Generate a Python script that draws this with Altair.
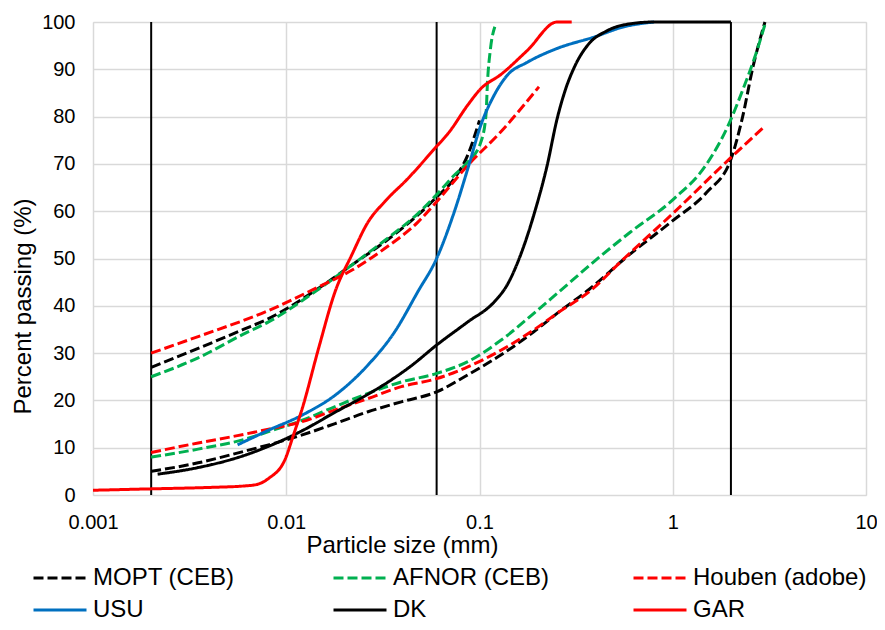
import altair as alt
import pandas as pd

series_names = ["MOPT (CEB)", "AFNOR (CEB)", "Houben (adobe)", "USU", "DK", "GAR"]
series_colors = ["#000000", "#00B050", "#FF0000", "#0070C0", "#000000", "#FF0000"]
series_dash = [[10, 4], [10, 4], [10, 4], [1, 0], [1, 0], [1, 0]]

# MOPT (CEB) envelope
mopt_upper_x = [0.002, 0.0035, 0.006, 0.0081, 0.0147, 0.0218, 0.0323, 0.048, 0.06, 0.0741, 0.0868, 0.1]
mopt_upper_y = [27, 31, 35, 37.3, 43.7, 48.6, 53.5, 59.2, 63, 66.9, 71.8, 79.2]
mopt_lower_x = [0.002, 0.0035, 0.006, 0.0081, 0.0121, 0.0179, 0.0265, 0.0394, 0.06, 0.087, 0.129, 0.191, 0.252, 0.37, 0.58, 1, 1.5, 2, 2.3, 2.6, 3]
mopt_lower_y = [5, 6.8, 9.2, 10.6, 12.7, 15.1, 17.6, 19.7, 21.8, 25.4, 29.6, 34.5, 38.4, 43.5, 50.4, 58, 64, 71, 80, 90.5, 100]

# AFNOR (CEB) envelope
afnor_upper_x = [0.002, 0.0035, 0.006, 0.0081, 0.0147, 0.0218, 0.0323, 0.048, 0.06, 0.074, 0.087, 0.1016, 0.108, 0.11, 0.114, 0.12]
afnor_upper_y = [25, 29, 34, 36.6, 43.5, 48.6, 53.8, 59.5, 63.5, 67.6, 70.4, 74.6, 80.3, 87.3, 94.4, 99]
afnor_lower_x = [0.002, 0.0035, 0.006, 0.0081, 0.0121, 0.0179, 0.0265, 0.0394, 0.06, 0.087, 0.129, 0.191, 0.252, 0.42, 0.6, 1, 1.5, 1.96, 2.3, 2.7, 3]
afnor_lower_y = [8, 9.7, 11.7, 13.4, 15.8, 18.7, 21.5, 23.9, 25.7, 28.2, 32.7, 38.4, 42.6, 50.4, 55.5, 62.4, 70, 78.6, 85.6, 93.4, 99.5]

# Houben (adobe) envelope
houben_upper_x = [0.002, 0.0035, 0.0081, 0.0147, 0.0218, 0.0323, 0.048, 0.06, 0.087, 0.129, 0.203]
houben_upper_y = [30, 33.5, 39, 44, 47.5, 52.1, 57.7, 62, 69.7, 76.8, 86.3]
houben_lower_x = [0.002, 0.0035, 0.0055, 0.0081, 0.0121, 0.0179, 0.0265, 0.0394, 0.06, 0.087, 0.129, 0.191, 0.252, 0.37, 0.56, 1, 1.96, 3]
houben_lower_y = [9, 11, 12.5, 13.9, 15.5, 18, 20.4, 22.9, 24.6, 27.1, 30.6, 34.9, 38.4, 43, 50, 59.5, 71, 78]

# Soils
usu_x = [0.0056, 0.0081, 0.0121, 0.0179, 0.0265, 0.0364, 0.048, 0.06, 0.0741, 0.087, 0.1016, 0.119, 0.139, 0.177, 0.252, 0.39, 0.56, 0.8]
usu_y = [10.6, 13.7, 16.9, 21.1, 27.5, 34.5, 43, 50, 59.9, 69, 78.2, 84.5, 88.7, 91.5, 94.4, 96.8, 99, 100]
dk_x = [0.00216, 0.0035, 0.006, 0.0081, 0.0121, 0.0179, 0.0265, 0.0337, 0.0443, 0.06, 0.087, 0.119, 0.139, 0.163, 0.191, 0.224, 0.252, 0.28, 0.31, 0.37, 0.45, 0.56, 0.8, 2]
dk_y = [4.4, 5.8, 8.3, 10.3, 13.6, 17.5, 21.3, 23.9, 27.3, 31.7, 36.6, 40.8, 44.4, 50.7, 59.2, 69.7, 79.5, 86, 90.5, 95.5, 98, 99.4, 100, 100]
gar_x = [0.001, 0.002, 0.004, 0.006, 0.007, 0.0081, 0.0099, 0.0109, 0.0121, 0.0147, 0.0179, 0.0218, 0.0265, 0.0323, 0.0426, 0.0585, 0.0699, 0.0868, 0.1016, 0.129, 0.177, 0.252, 0.3]
gar_y = [1, 1.3, 1.6, 1.9, 2.2, 3.5, 7.7, 12.7, 18.3, 31, 43, 50.7, 57.7, 62, 66.9, 73.2, 76.8, 82.4, 85.9, 88.9, 94, 100, 100]

# Fraction boundaries (clay / silt / sand / gravel)
boundary_x = [0.002, 0.06, 2]

curves = [
    ("MOPT (CEB)", "upper", mopt_upper_x, mopt_upper_y),
    ("MOPT (CEB)", "lower", mopt_lower_x, mopt_lower_y),
    ("AFNOR (CEB)", "upper", afnor_upper_x, afnor_upper_y),
    ("AFNOR (CEB)", "lower", afnor_lower_x, afnor_lower_y),
    ("Houben (adobe)", "upper", houben_upper_x, houben_upper_y),
    ("Houben (adobe)", "lower", houben_lower_x, houben_lower_y),
    ("USU", "all", usu_x, usu_y),
    ("DK", "all", dk_x, dk_y),
    ("GAR", "all", gar_x, gar_y),
]
rows = []
for name, part, xs, ys in curves:
    for i, (x, y) in enumerate(zip(xs, ys)):
        rows.append({"series": name, "curve": name + " " + part, "size": x, "pct": y, "order": i})
df = pd.DataFrame(rows)

FONT = "Liberation Sans"

x_scale = alt.Scale(type="log", domain=[0.001, 10], nice=False)
y_scale = alt.Scale(domain=[0, 100], nice=False)

x_axis = alt.Axis(
    values=[0.001, 0.01, 0.1, 1, 10], format="~g", title="Particle size (mm)",
    labelFlush=False, labelOverlap=False, ticks=False, tickSize=0, domain=False,
    grid=True, gridColor="#d9d9d9", gridWidth=1.5,
    labelFont=FONT, labelFontSize=20, labelColor="#000000", labelPadding=27,
    labelBaseline="middle",
    titleFont=FONT, titleFontSize=24, titleFontWeight="normal", titleColor="#000000",
    titleX=309, titleY=50, titleBaseline="middle", titleAlign="center",
)
y_axis = alt.Axis(
    values=list(range(0, 101, 10)), title="Percent passing (%)",
    ticks=False, tickSize=0, domain=False,
    grid=True, gridColor="#d9d9d9", gridWidth=1.5,
    labelFont=FONT, labelFontSize=20, labelColor="#000000", labelPadding=18,
    titleFont=FONT, titleFontSize=24, titleFontWeight="normal", titleColor="#000000",
    titleX=-70, titleY=284, titleAngle=270, titleBaseline="middle", titleAlign="center",
)

legend = alt.Legend(
    title=None, orient="none", legendX=-61, legendY=544, columns=3, direction="horizontal",
    gridAlign="all", columnPadding=65, rowPadding=8, clipHeight=24, symbolType="stroke",
    symbolSize=2809, symbolStrokeWidth=3, labelFont=FONT, labelFontSize=24,
    labelColor="#000000", labelOffset=5, labelLimit=400, padding=0,
)

rules = alt.Chart(pd.DataFrame({"size": boundary_x})).mark_rule(
    color="#000000", strokeWidth=2
).encode(x=alt.X("size:Q", scale=x_scale, axis=x_axis))

lines = alt.Chart(df).mark_line(strokeWidth=3, interpolate="monotone").encode(
    x=alt.X("size:Q", scale=x_scale, axis=x_axis),
    y=alt.Y("pct:Q", scale=y_scale, axis=y_axis),
    color=alt.Color("series:N", scale=alt.Scale(domain=series_names, range=series_colors), legend=legend),
    strokeDash=alt.StrokeDash("series:N", scale=alt.Scale(domain=series_names, range=series_dash), legend=legend),
    detail="curve:N",
    order="order:Q",
)

chart = alt.layer(rules, lines).properties(
    width=773, height=473,
    autosize=alt.AutoSizeParams(type="none"),
    padding={"left": 85, "top": 14, "right": 11, "bottom": 127},
    background="#ffffff",
).configure_view(stroke="transparent").configure(font=FONT)

chart.save("out.html", embed_options={"renderer": "svg", "actions": False})
